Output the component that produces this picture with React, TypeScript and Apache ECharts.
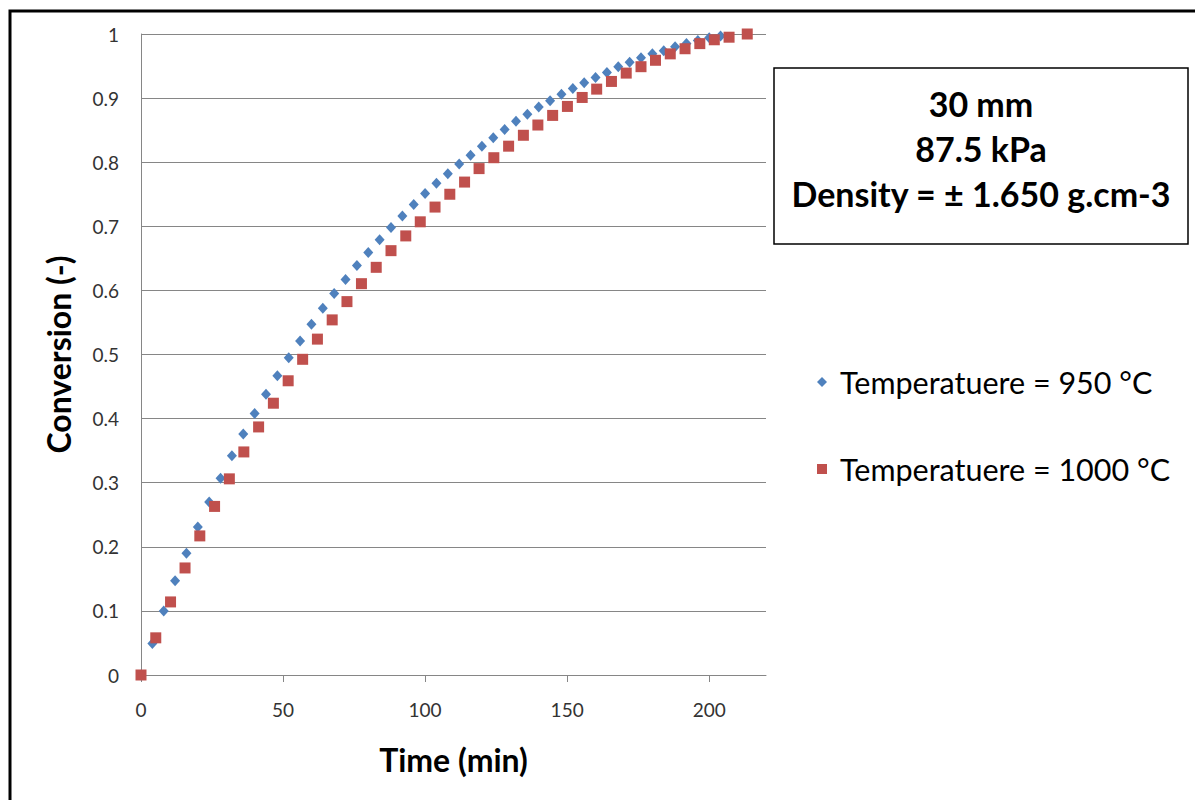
import React, { useEffect, useRef } from "react";
import * as echarts from "echarts";

const blueTime = [0, 4, 8, 12, 16, 20, 24, 28, 32, 36, 40, 44, 48, 52, 56, 60, 64, 68, 72, 76, 80, 84, 88, 92, 96, 100, 104, 108, 112, 116, 120, 124, 128, 132, 136, 140, 144, 148, 152, 156, 160, 164, 168, 172, 176, 180, 184, 188, 192, 196, 200, 204];
const blueConv = [0, 0.049, 0.1, 0.147, 0.19, 0.231, 0.27, 0.307, 0.342, 0.376, 0.408, 0.438, 0.467, 0.495, 0.521, 0.547, 0.572, 0.595, 0.617, 0.639, 0.659, 0.679, 0.698, 0.716, 0.734, 0.751, 0.767, 0.782, 0.797, 0.811, 0.825, 0.838, 0.851, 0.864, 0.875, 0.886, 0.896, 0.906, 0.915, 0.924, 0.932, 0.94, 0.949, 0.956, 0.963, 0.969, 0.974, 0.98, 0.985, 0.99, 0.994, 0.997];

const redTime = [0, 5.2, 10.4, 15.5, 20.7, 25.9, 31.1, 36.2, 41.4, 46.6, 51.8, 56.9, 62.1, 67.3, 72.5, 77.6, 82.8, 88.0, 93.2, 98.3, 103.5, 108.7, 113.9, 119.0, 124.2, 129.4, 134.6, 139.7, 144.9, 150.1, 155.3, 160.4, 165.6, 170.8, 176.0, 181.1, 186.3, 191.5, 196.7, 201.8, 207.0, 213.4];
const redConv = [0, 0.058, 0.114, 0.167, 0.217, 0.263, 0.306, 0.348, 0.387, 0.424, 0.459, 0.4925, 0.524, 0.554, 0.5825, 0.6105, 0.636, 0.662, 0.685, 0.707, 0.73, 0.75, 0.769, 0.79, 0.807, 0.825, 0.842, 0.858, 0.873, 0.887, 0.901, 0.914, 0.926, 0.939, 0.949, 0.959, 0.969, 0.977, 0.985, 0.991, 0.995, 1.0];

const xTicks = [0, 50, 100, 150, 200];
const seriesNames = ["Temperatuere = 950 °C", "Temperatuere = 1000 °C"];
const boxLines = ["30 mm", "87.5 kPa", "Density = ± 1.650 g.cm-3"];

const FONT = "Lato, 'Open Sans', sans-serif";

export default function App() {
  const ref = useRef<HTMLDivElement>(null);
  useEffect(() => {
    if (!ref.current) return;
    const chart = echarts.init(ref.current, undefined, { renderer: "svg" });
    const blueData = blueTime.map((t, i) => [t, blueConv[i]]);
    const redData = redTime.map((t, i) => [t, redConv[i]]);
    chart.setOption({
      animation: false,
      backgroundColor: "#ffffff",
      grid: { left: 141, top: 34, width: 625, height: 641, containLabel: false },
      xAxis: {
        type: "value",
        min: 0,
        max: 220,
        interval: 50,
        name: "Time (min)",
        nameLocation: "middle",
        nameGap: 68,
        nameTextStyle: { fontFamily: FONT, fontSize: 32, fontWeight: "bold", color: "#000" },
        axisLine: { show: true, onZero: false, lineStyle: { color: "#868686", width: 1 } },
        axisTick: { show: true, length: 7, customValues: xTicks, lineStyle: { color: "#868686" } },
        axisLabel: { customValues: xTicks, margin: 25, fontFamily: FONT, fontSize: 19, color: "#333" },
        splitLine: { show: false },
      },
      yAxis: {
        type: "value",
        min: 0,
        max: 1,
        interval: 0.1,
        name: "Conversion (-)",
        nameLocation: "middle",
        nameGap: 67,
        nameTextStyle: { fontFamily: FONT, fontSize: 32, fontWeight: "bold", color: "#000" },
        axisLine: { show: true, lineStyle: { color: "#868686", width: 1 } },
        axisTick: { show: false },
        axisLabel: { margin: 22, fontFamily: FONT, fontSize: 19, color: "#333" },
        splitLine: { show: true, lineStyle: { color: "#868686", width: 1 } },
      },
      legend: {
        orient: "vertical",
        left: 812,
        top: 359,
        itemGap: 51,
        itemWidth: 10,
        itemHeight: 10,
        data: [
          { name: seriesNames[0], icon: "diamond" },
          { name: seriesNames[1], icon: "rect" },
        ],
        textStyle: { fontFamily: FONT, fontSize: 30.5, color: "#000", lineHeight: 36, padding: [0, 0, 0, 8] },
      },
      series: [
        {
          name: seriesNames[0],
          type: "scatter",
          data: blueData,
          symbol: "diamond",
          symbolSize: [10, 11],
          itemStyle: { color: "#4F81BD", opacity: 1 },
        },
        {
          name: seriesNames[1],
          type: "scatter",
          data: redData,
          symbol: "rect",
          symbolSize: [11, 11],
          itemStyle: { color: "#C0504D", opacity: 1 },
        },
      ],
      graphic: [
        {
          type: "rect",
          shape: { x: 10, y: 11, width: 1200, height: 820 },
          style: { fill: "none", stroke: "#000", lineWidth: 3 },
          silent: true,
        },
        {
          type: "rect",
          shape: { x: 774, y: 68, width: 414, height: 176 },
          style: { fill: "#fff", stroke: "#000", lineWidth: 1.5 },
          silent: true,
        },
        ...boxLines.map((s, i) => ({
          type: "text",
          x: 981,
          y: 103 + i * 45,
          style: {
            text: s,
            fontFamily: FONT,
            fontSize: 34,
            fontWeight: "bold",
            fill: "#000",
            align: "center",
            verticalAlign: "middle",
          },
          silent: true,
        })),
      ],
    });
    return () => chart.dispose();
  }, []);
  return (
    <div
      ref={ref}
      style={{ position: "fixed", left: 0, top: 0, width: 1195, height: 800, background: "#fff" }}
    />
  );
}
